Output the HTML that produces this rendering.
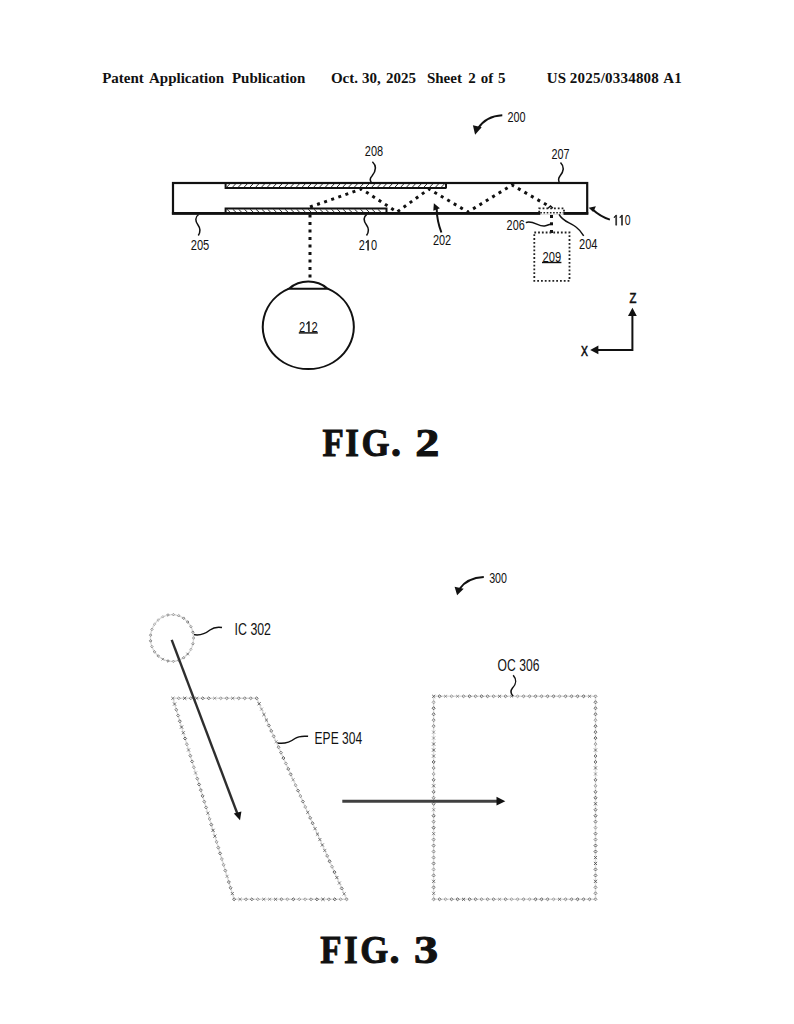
<!DOCTYPE html>
<html><head><meta charset="utf-8">
<style>
html,body{margin:0;padding:0;background:#fff;width:794px;height:1024px;overflow:hidden}
svg{display:block}
.hd{font-family:"Liberation Serif",serif;font-weight:bold;font-size:15px;fill:#111}
.lb{font-family:"Liberation Sans",sans-serif;font-size:14.3px;fill:#111}
.fg{font-family:"Liberation Serif",serif;font-weight:bold;font-size:40px;fill:#111;stroke:#111;stroke-width:1}
.ln{fill:none;stroke:#111;stroke-width:2}
.th{fill:none;stroke:#111;stroke-width:1.5}
.ht{fill:none;stroke:#222;stroke-width:0.95}
.dt{fill:none;stroke:#111;stroke-width:3;stroke-dasharray:3 4.5}
.fd{fill:none;stroke:#222;stroke-width:1.8;stroke-dasharray:1.8 2}
.gd{fill:none;stroke:#9a9a9a;stroke-width:2;stroke-dasharray:2 1.6}
</style></head>
<body>
<svg width="794" height="1024" viewBox="0 0 794 1024">
<!-- header -->
<text class="hd" x="102.2" y="83.2">Patent</text><text class="hd" x="149.0" y="83.2">Application</text><text class="hd" x="231.9" y="83.2">Publication</text><text class="hd" x="330.9" y="83.2">Oct.</text><text class="hd" x="361.9" y="83.2">30,</text><text class="hd" x="386.1" y="83.2">2025</text><text class="hd" x="426.9" y="83.2">Sheet</text><text class="hd" x="468.3" y="83.2">2</text><text class="hd" x="480.8" y="83.2">of</text><text class="hd" x="497.9" y="83.2">5</text><text class="hd" x="546.8" y="83.2">US</text><text class="hd" x="569.8" y="83.2" textLength="89" lengthAdjust="spacing">2025/0334808</text><text class="hd" x="663.3" y="83.2">A1</text>

<!-- ===== FIG 2 ===== -->
<!-- 200 arrow -->
<text class="lb" x="507.4" y="121.7" textLength="18.1" lengthAdjust="spacingAndGlyphs">200</text>
<path class="ln" d="M502.3,115.3 Q486,116 477.5,129"/>
<path d="M472.9,125.2 L481.7,127.2 L475.1,134.8 Z" fill="#111"/>

<!-- waveguide rect -->
<rect x="173" y="183" width="414.2" height="30.4" fill="none" stroke="#111" stroke-width="2.2"/>
<path d="M171.9,213.35 H588.3" stroke="#111" stroke-width="2.7"/>
<!-- top strip 208 -->
<path class="ln" d="M225.6,183 V188 H446" stroke-width="1.6"/>
<path class="ln" d="M446,183 V188.5" stroke-width="1.6"/>
<g class="ht"><path d="M226.5,187.4 L229.7,184"/><path d="M232.3,187.4 L235.5,184"/><path d="M238.1,187.4 L241.3,184"/><path d="M243.9,187.4 L247.1,184"/><path d="M249.7,187.4 L252.9,184"/><path d="M255.5,187.4 L258.7,184"/><path d="M261.3,187.4 L264.5,184"/><path d="M267.1,187.4 L270.3,184"/><path d="M272.9,187.4 L276.1,184"/><path d="M278.7,187.4 L281.9,184"/><path d="M284.5,187.4 L287.7,184"/><path d="M290.3,187.4 L293.5,184"/><path d="M296.1,187.4 L299.3,184"/><path d="M301.9,187.4 L305.1,184"/><path d="M307.7,187.4 L310.9,184"/><path d="M313.5,187.4 L316.7,184"/><path d="M319.3,187.4 L322.5,184"/><path d="M325.1,187.4 L328.3,184"/><path d="M330.9,187.4 L334.1,184"/><path d="M336.7,187.4 L339.9,184"/><path d="M342.5,187.4 L345.7,184"/><path d="M348.3,187.4 L351.5,184"/><path d="M354.1,187.4 L357.3,184"/><path d="M359.9,187.4 L363.1,184"/><path d="M365.7,187.4 L368.9,184"/><path d="M371.5,187.4 L374.7,184"/><path d="M377.3,187.4 L380.5,184"/><path d="M383.1,187.4 L386.3,184"/><path d="M388.9,187.4 L392.1,184"/><path d="M394.7,187.4 L397.9,184"/><path d="M400.5,187.4 L403.7,184"/><path d="M406.3,187.4 L409.5,184"/><path d="M412.1,187.4 L415.3,184"/><path d="M417.9,187.4 L421.1,184"/><path d="M423.7,187.4 L426.9,184"/><path d="M429.5,187.4 L432.7,184"/><path d="M435.3,187.4 L438.5,184"/><path d="M441.1,187.4 L444.3,184"/></g>
<!-- bottom strip 210 -->
<path class="ln" d="M225.6,213 V208.4 H386.5 V213" stroke-width="1.6"/>
<g class="ht"><path d="M227.0,209.3 L230.2,212.3"/><path d="M232.8,209.3 L236.0,212.3"/><path d="M238.6,209.3 L241.8,212.3"/><path d="M244.4,209.3 L247.6,212.3"/><path d="M250.2,209.3 L253.4,212.3"/><path d="M256.0,209.3 L259.2,212.3"/><path d="M261.8,209.3 L265.0,212.3"/><path d="M267.6,209.3 L270.8,212.3"/><path d="M273.4,209.3 L276.6,212.3"/><path d="M279.2,209.3 L282.4,212.3"/><path d="M285.0,209.3 L288.2,212.3"/><path d="M290.8,209.3 L294.0,212.3"/><path d="M296.6,209.3 L299.8,212.3"/><path d="M302.4,209.3 L305.6,212.3"/><path d="M308.2,209.3 L311.4,212.3"/><path d="M314.0,209.3 L317.2,212.3"/><path d="M319.8,209.3 L323.0,212.3"/><path d="M325.6,209.3 L328.8,212.3"/><path d="M331.4,209.3 L334.6,212.3"/><path d="M337.2,209.3 L340.4,212.3"/><path d="M343.0,209.3 L346.2,212.3"/><path d="M348.8,209.3 L352.0,212.3"/><path d="M354.6,209.3 L357.8,212.3"/><path d="M360.4,209.3 L363.6,212.3"/><path d="M366.2,209.3 L369.4,212.3"/><path d="M372.0,209.3 L375.2,212.3"/><path d="M377.8,209.3 L381.0,212.3"/></g>

<!-- zigzag -->
<path class="dt" d="M310,207 L361.5,189 L397,212 L429,189 L468,212 L512,185 L550.4,207"/>
<path d="M548,208.3 L550.5,206 L553,208.3" fill="none" stroke="#111" stroke-width="1.3"/>
<!-- vertical dotted to eye -->
<path class="dt" d="M310,214.5 V278" stroke-dasharray="2.6 4.95"/>
<!-- small dotted rect 204 -->
<path d="M540.3,213.35 H563.5" stroke="#fff" stroke-width="3"/><path d="M540.3,212.8 H563.5" stroke="#222" stroke-width="1.6" stroke-dasharray="1.6 1.6"/>
<path class="fd" d="M539.2,212.5 V208.3 H564 V212.5" stroke-width="1.3" stroke-dasharray="1.4 2.4"/>
<!-- dots from 204 to 209 -->
<rect x="550" y="215" width="3" height="3" fill="#111"/>
<rect x="550" y="222.3" width="3" height="3" fill="#111"/>
<rect x="550" y="230" width="3" height="3" fill="#111"/>
<!-- box 209 -->
<rect x="534.3" y="232.5" width="35.2" height="48.3" class="fd" stroke-width="1.5" stroke-dasharray="1.6 2.2"/>
<text class="lb" x="542.5" y="261.8" textLength="18.6" lengthAdjust="spacingAndGlyphs">209</text>
<path d="M542,262.5 H561.4" stroke="#111" stroke-width="1.4"/>

<!-- eye -->
<path class="ln" d="M288.9,288.7 A45.55 42.2 0 1 0 327.7,288.7"/>
<path class="ln" d="M288.9,288.7 A30 30 0 0 1 327.7,288.7 Z"/>
<text class="lb" transform="translate(299.00,331.7) scale(0.780,1)">2</text><path d="M0.262,-0.705 L0.335,-0.705 L0.335,0 L0.25,0 L0.25,-0.625 L0.095,-0.505 L0.095,-0.578 Z" fill="#111" stroke="#111" stroke-width="0.55" vector-effect="non-scaling-stroke" transform="translate(305.60,331.7) scale(11.151,14.3)"/><text class="lb" transform="translate(311.40,331.7) scale(0.780,1)">2</text>
<path d="M298.8,332.9 H317.8" stroke="#111" stroke-width="1.5"/>

<!-- labels and leaders -->
<text class="lb" x="364.8" y="155.7" textLength="18.3" lengthAdjust="spacingAndGlyphs">208</text>
<path class="th" d="M372.4,161.7 C377,166 376,171 372,176 C369,179 370,181 371.7,183"/>
<text class="lb" x="551.6" y="159.2" textLength="18" lengthAdjust="spacingAndGlyphs">207</text>
<path class="th" d="M560.5,162.4 C564,166 564,171 560,176 C557.5,179 558.5,181 559.5,183"/>
<text class="lb" x="190.7" y="250" textLength="18.6" lengthAdjust="spacingAndGlyphs">205</text>
<path class="th" d="M198.6,214.5 C195,217 195,221 198,225 C201,229 200.5,232 198.3,235.5"/>
<text class="lb" transform="translate(358.80,250.3) scale(0.767,1)">2</text><path d="M0.262,-0.705 L0.335,-0.705 L0.335,0 L0.25,0 L0.25,-0.625 L0.095,-0.505 L0.095,-0.578 Z" fill="#111" stroke="#111" stroke-width="0.55" vector-effect="non-scaling-stroke" transform="translate(364.90,250.3) scale(10.971,14.3)"/><text class="lb" transform="translate(371.00,250.3) scale(0.767,1)">0</text>
<path class="th" d="M366.7,214.4 C363.5,217 363.5,221 366.5,225 C369.5,229 369,232 366.5,235.5"/>
<text class="lb" x="432.9" y="244.7" textLength="18.3" lengthAdjust="spacingAndGlyphs">202</text>
<path class="ln" d="M441.4,232.5 Q436.9,220.7 436.7,209" stroke-width="1.7"/>
<path d="M433.9,203.2 L433.3,210.7 L439.9,208.2 Z" fill="#111"/>
<text class="lb" x="506.6" y="230.4" style="font-size:14.8px" textLength="18.1" lengthAdjust="spacingAndGlyphs">206</text>
<path class="th" d="M525.8,222.6 C533,220 538.5,226.8 544.5,226 C548,225.5 549.5,224 551.8,223.9"/>
<text class="lb" x="579" y="248.7" textLength="18.5" lengthAdjust="spacingAndGlyphs">204</text>
<path class="th" d="M559.1,214.3 C563,222 570,222 576,227 C580,230 582,233 583.7,235.8"/>
<path d="M0.262,-0.705 L0.335,-0.705 L0.335,0 L0.25,0 L0.25,-0.625 L0.095,-0.505 L0.095,-0.578 Z" fill="#111" stroke="#111" stroke-width="0.55" vector-effect="non-scaling-stroke" transform="translate(613.10,225.2) scale(10.492,14.3)"/><path d="M0.262,-0.705 L0.335,-0.705 L0.335,0 L0.25,0 L0.25,-0.625 L0.095,-0.505 L0.095,-0.578 Z" fill="#111" stroke="#111" stroke-width="0.55" vector-effect="non-scaling-stroke" transform="translate(618.93,225.2) scale(10.492,14.3)"/><text class="lb" transform="translate(624.77,225.2) scale(0.734,1)">0</text>
<path class="ln" d="M609.9,219.6 Q600,216.5 592.1,209" stroke-width="1.7"/>
<path d="M588.7,207.8 L595.9,206.3 L593.2,212 Z" fill="#111"/>

<!-- axes -->
<text class="lb" x="629.4" y="302.6" textLength="6.9" lengthAdjust="spacingAndGlyphs" stroke="#111" stroke-width="0.6">Z</text>
<text class="lb" x="580.9" y="355.5" textLength="6.9" lengthAdjust="spacingAndGlyphs" stroke="#111" stroke-width="0.6">X</text>
<path class="ln" d="M632.4,314 V349.9 H597"/>
<path d="M632.4,307.7 L628,315.9 L636.8,315.9 Z" fill="#111"/>
<path d="M590.2,349.9 L598.4,345.5 L598.4,354.3 Z" fill="#111"/>

<text class="fg" transform="translate(322.50,455.5) scale(0.870,1)">F</text><text class="fg" transform="translate(345.22,455.5) scale(0.879,1)">I</text><text class="fg" transform="translate(361.60,455.5) scale(0.900,1)">G</text><text class="fg" transform="translate(391.00,455.5) scale(1.000,1)">.</text><text class="fg" transform="translate(415.29,455.5) scale(1.206,1)">2</text>

<!-- ===== FIG 3 ===== -->
<text class="lb" x="489.2" y="582.6" textLength="17.8" lengthAdjust="spacingAndGlyphs">300</text>
<path class="ln" d="M483.8,577.1 Q467,578 459.5,589"/>
<path d="M454.6,586.7 L463.7,588.7 L457.1,595.2 Z" fill="#111"/>


<text class="lb" x="234.6" y="635.35" style="font-size:16.5px" textLength="36.4" lengthAdjust="spacingAndGlyphs">IC 302</text>
<path class="th" d="M193,634.5 C200,636 205,634 210,630 C214,627 218,627 222,627.6"/>


<text class="lb" x="314.6" y="743.5" style="font-size:16.15px" textLength="47.5" lengthAdjust="spacingAndGlyphs">EPE 304</text>
<path class="th" d="M277,742.9 C283,744 289,743 295,738.5 C299,735.5 304,736 308.1,736.3"/>

<g fill="none" stroke="#dcdcdc" stroke-width="1.4">
<path d="M433.6,696.3 H595.5 V899.3 H433.6 Z"/>
<path d="M172.8,698.3 H256.7 L346.6,899.3 H234.1 Z"/>
<ellipse cx="172" cy="638" rx="21.6" ry="23.4"/>
</g>
<g id="marks" fill="none" stroke="#4a4a4a" stroke-width="0.95"><path d="M432.1,694.8L435.2,697.8M435.2,694.8L432.1,697.8" stroke-opacity="0.8"/><path d="M438.0,696.3L439.6,694.8L441.1,696.3L439.6,697.8Z" stroke-opacity="0.9"/><path d="M444.0,694.8L447.1,697.8M447.1,694.8L444.0,697.8" stroke-opacity="0.5"/><path d="M450.0,696.3L451.6,694.8L453.1,696.3L451.6,697.8Z" stroke-opacity="0.5"/><path d="M456.0,694.8L459.1,697.8M459.1,694.8L456.0,697.8" stroke-opacity="0.5"/><path d="M462.0,696.3L463.6,694.8L465.1,696.3L463.6,697.8Z" stroke-opacity="0.65"/><path d="M468.0,696.3L469.6,694.8L471.1,696.3L469.6,697.8Z" stroke-opacity="0.9"/><path d="M474.0,696.3L475.6,694.8L477.1,696.3L475.6,697.8Z" stroke-opacity="0.65"/><path d="M480.0,696.3L481.6,694.8L483.1,696.3L481.6,697.8Z" stroke-opacity="0.9"/><path d="M486.0,696.3L487.6,694.8L489.1,696.3L487.6,697.8Z" stroke-opacity="0.75"/><path d="M492.0,696.3L493.6,694.8L495.1,696.3L493.6,697.8Z" stroke-opacity="0.65"/><path d="M498.0,694.8L501.1,697.8M501.1,694.8L498.0,697.8" stroke-opacity="0.75"/><path d="M504.0,696.3L505.6,694.8L507.1,696.3L505.6,697.8Z" stroke-opacity="0.75"/><path d="M510.0,694.8L513.1,697.8M513.1,694.8L510.0,697.8" stroke-opacity="0.5"/><path d="M516.0,696.3L517.5,694.8L519.1,696.3L517.5,697.8Z" stroke-opacity="0.5"/><path d="M522.0,696.3L523.5,694.8L525.1,696.3L523.5,697.8Z" stroke-opacity="0.65"/><path d="M528.0,696.3L529.5,694.8L531.1,696.3L529.5,697.8Z" stroke-opacity="0.65"/><path d="M534.0,696.3L535.5,694.8L537.1,696.3L535.5,697.8Z" stroke-opacity="0.75"/><path d="M540.0,696.3L541.5,694.8L543.1,696.3L541.5,697.8Z" stroke-opacity="0.65"/><path d="M546.0,696.3L547.5,694.8L549.1,696.3L547.5,697.8Z" stroke-opacity="0.75"/><path d="M552.0,696.3L553.5,694.8L555.1,696.3L553.5,697.8Z" stroke-opacity="0.8"/><path d="M558.0,696.3L559.5,694.8L561.1,696.3L559.5,697.8Z" stroke-opacity="0.5"/><path d="M564.0,696.3L565.5,694.8L567.1,696.3L565.5,697.8Z" stroke-opacity="0.75"/><path d="M570.0,696.3L571.5,694.8L573.1,696.3L571.5,697.8Z" stroke-opacity="0.75"/><path d="M576.0,696.3L577.5,694.8L579.1,696.3L577.5,697.8Z" stroke-opacity="0.8"/><path d="M582.0,696.3L583.5,694.8L585.1,696.3L583.5,697.8Z" stroke-opacity="0.9"/><path d="M588.0,694.8L591.1,697.8M591.1,694.8L588.0,697.8" stroke-opacity="0.65"/><path d="M594.0,696.3L595.5,694.8L597.0,696.3L595.5,697.8Z" stroke-opacity="0.65"/><path d="M594.0,702.3L595.5,700.7L597.0,702.3L595.5,703.8Z" stroke-opacity="0.8"/><path d="M594.0,708.2L595.5,706.7L597.0,708.2L595.5,709.8Z" stroke-opacity="0.8"/><path d="M594.0,714.2L595.5,712.7L597.0,714.2L595.5,715.8Z" stroke-opacity="0.8"/><path d="M594.0,720.2L595.5,718.6L597.0,720.2L595.5,721.7Z" stroke-opacity="0.5"/><path d="M594.0,726.2L595.5,724.6L597.0,726.2L595.5,727.7Z" stroke-opacity="0.9"/><path d="M594.0,732.1L595.5,730.6L597.0,732.1L595.5,733.7Z" stroke-opacity="0.8"/><path d="M594.0,738.1L595.5,736.5L597.0,738.1L595.5,739.6Z" stroke-opacity="0.9"/><path d="M594.0,744.1L595.5,742.5L597.0,744.1L595.5,745.6Z" stroke-opacity="0.5"/><path d="M594.0,748.5L597.0,751.6M597.0,748.5L594.0,751.6" stroke-opacity="0.75"/><path d="M594.0,756.0L595.5,754.5L597.0,756.0L595.5,757.6Z" stroke-opacity="0.8"/><path d="M594.0,762.0L595.5,760.4L597.0,762.0L595.5,763.5Z" stroke-opacity="0.8"/><path d="M594.0,766.4L597.0,769.5M597.0,766.4L594.0,769.5" stroke-opacity="0.75"/><path d="M594.0,772.4L597.0,775.5M597.0,772.4L594.0,775.5" stroke-opacity="0.5"/><path d="M594.0,779.9L595.5,778.3L597.0,779.9L595.5,781.4Z" stroke-opacity="0.8"/><path d="M594.0,785.9L595.5,784.3L597.0,785.9L595.5,787.4Z" stroke-opacity="0.5"/><path d="M594.0,791.8L595.5,790.3L597.0,791.8L595.5,793.4Z" stroke-opacity="0.8"/><path d="M594.0,797.8L595.5,796.2L597.0,797.8L595.5,799.3Z" stroke-opacity="0.9"/><path d="M594.0,802.2L597.0,805.3M597.0,802.2L594.0,805.3" stroke-opacity="0.9"/><path d="M594.0,809.7L595.5,808.2L597.0,809.7L595.5,811.3Z" stroke-opacity="0.8"/><path d="M594.0,815.7L595.5,814.2L597.0,815.7L595.5,817.3Z" stroke-opacity="0.9"/><path d="M594.0,821.7L595.5,820.1L597.0,821.7L595.5,823.2Z" stroke-opacity="0.75"/><path d="M594.0,827.7L595.5,826.1L597.0,827.7L595.5,829.2Z" stroke-opacity="0.5"/><path d="M594.0,833.6L595.5,832.1L597.0,833.6L595.5,835.2Z" stroke-opacity="0.8"/><path d="M594.0,839.6L595.5,838.0L597.0,839.6L595.5,841.1Z" stroke-opacity="0.65"/><path d="M594.0,845.6L595.5,844.0L597.0,845.6L595.5,847.1Z" stroke-opacity="0.9"/><path d="M594.0,851.5L595.5,850.0L597.0,851.5L595.5,853.1Z" stroke-opacity="0.9"/><path d="M594.0,856.0L597.0,859.1M597.0,856.0L594.0,859.1" stroke-opacity="0.8"/><path d="M594.0,861.9L597.0,865.0M597.0,861.9L594.0,865.0" stroke-opacity="0.9"/><path d="M594.0,869.4L595.5,867.9L597.0,869.4L595.5,871.0Z" stroke-opacity="0.8"/><path d="M594.0,875.4L595.5,873.9L597.0,875.4L595.5,877.0Z" stroke-opacity="0.8"/><path d="M594.0,879.8L597.0,882.9M597.0,879.8L594.0,882.9" stroke-opacity="0.9"/><path d="M594.0,887.4L595.5,885.8L597.0,887.4L595.5,888.9Z" stroke-opacity="0.65"/><path d="M594.0,893.3L595.5,891.8L597.0,893.3L595.5,894.9Z" stroke-opacity="0.65"/><path d="M594.0,899.3L595.5,897.8L597.0,899.3L595.5,900.8Z" stroke-opacity="0.65"/><path d="M588.0,899.3L589.5,897.8L591.1,899.3L589.5,900.8Z" stroke-opacity="0.75"/><path d="M582.0,899.3L583.5,897.8L585.1,899.3L583.5,900.8Z" stroke-opacity="0.8"/><path d="M576.0,899.3L577.5,897.8L579.1,899.3L577.5,900.8Z" stroke-opacity="0.9"/><path d="M570.0,899.3L571.5,897.8L573.1,899.3L571.5,900.8Z" stroke-opacity="0.75"/><path d="M564.0,899.3L565.5,897.8L567.1,899.3L565.5,900.8Z" stroke-opacity="0.65"/><path d="M558.0,897.8L561.1,900.8M561.1,897.8L558.0,900.8" stroke-opacity="0.75"/><path d="M552.0,899.3L553.5,897.8L555.1,899.3L553.5,900.8Z" stroke-opacity="0.5"/><path d="M546.0,899.3L547.5,897.8L549.1,899.3L547.5,900.8Z" stroke-opacity="0.75"/><path d="M540.0,899.3L541.5,897.8L543.1,899.3L541.5,900.8Z" stroke-opacity="0.9"/><path d="M534.0,899.3L535.5,897.8L537.1,899.3L535.5,900.8Z" stroke-opacity="0.9"/><path d="M528.0,899.3L529.5,897.8L531.1,899.3L529.5,900.8Z" stroke-opacity="0.5"/><path d="M522.0,899.3L523.5,897.8L525.1,899.3L523.5,900.8Z" stroke-opacity="0.65"/><path d="M516.0,899.3L517.5,897.8L519.1,899.3L517.5,900.8Z" stroke-opacity="0.5"/><path d="M510.0,899.3L511.6,897.8L513.1,899.3L511.6,900.8Z" stroke-opacity="0.5"/><path d="M504.0,899.3L505.6,897.8L507.1,899.3L505.6,900.8Z" stroke-opacity="0.75"/><path d="M498.0,897.8L501.1,900.8M501.1,897.8L498.0,900.8" stroke-opacity="0.5"/><path d="M492.0,899.3L493.6,897.8L495.1,899.3L493.6,900.8Z" stroke-opacity="0.75"/><path d="M486.0,899.3L487.6,897.8L489.1,899.3L487.6,900.8Z" stroke-opacity="0.65"/><path d="M480.0,899.3L481.6,897.8L483.1,899.3L481.6,900.8Z" stroke-opacity="0.65"/><path d="M474.0,899.3L475.6,897.8L477.1,899.3L475.6,900.8Z" stroke-opacity="0.8"/><path d="M468.0,899.3L469.6,897.8L471.1,899.3L469.6,900.8Z" stroke-opacity="0.9"/><path d="M462.0,897.8L465.1,900.8M465.1,897.8L462.0,900.8" stroke-opacity="0.9"/><path d="M456.0,899.3L457.6,897.8L459.1,899.3L457.6,900.8Z" stroke-opacity="0.9"/><path d="M450.0,899.3L451.6,897.8L453.1,899.3L451.6,900.8Z" stroke-opacity="0.8"/><path d="M444.0,899.3L445.6,897.8L447.1,899.3L445.6,900.8Z" stroke-opacity="0.5"/><path d="M438.0,899.3L439.6,897.8L441.1,899.3L439.6,900.8Z" stroke-opacity="0.8"/><path d="M432.1,899.3L433.6,897.8L435.2,899.3L433.6,900.8Z" stroke-opacity="0.65"/><path d="M432.1,891.8L435.2,894.9M435.2,891.8L432.1,894.9" stroke-opacity="0.65"/><path d="M432.1,887.4L433.6,885.8L435.2,887.4L433.6,888.9Z" stroke-opacity="0.75"/><path d="M432.1,879.8L435.2,882.9M435.2,879.8L432.1,882.9" stroke-opacity="0.75"/><path d="M432.1,875.4L433.6,873.9L435.2,875.4L433.6,877.0Z" stroke-opacity="0.75"/><path d="M432.1,869.4L433.6,867.9L435.2,869.4L433.6,871.0Z" stroke-opacity="0.5"/><path d="M432.1,863.5L433.6,861.9L435.2,863.5L433.6,865.0Z" stroke-opacity="0.8"/><path d="M432.1,857.5L433.6,856.0L435.2,857.5L433.6,859.1Z" stroke-opacity="0.65"/><path d="M432.1,851.5L433.6,850.0L435.2,851.5L433.6,853.1Z" stroke-opacity="0.65"/><path d="M432.1,845.6L433.6,844.0L435.2,845.6L433.6,847.1Z" stroke-opacity="0.75"/><path d="M432.1,839.6L433.6,838.0L435.2,839.6L433.6,841.1Z" stroke-opacity="0.65"/><path d="M432.1,832.1L435.2,835.2M435.2,832.1L432.1,835.2" stroke-opacity="0.65"/><path d="M432.1,827.7L433.6,826.1L435.2,827.7L433.6,829.2Z" stroke-opacity="0.9"/><path d="M432.1,821.7L433.6,820.1L435.2,821.7L433.6,823.2Z" stroke-opacity="0.65"/><path d="M432.1,815.7L433.6,814.2L435.2,815.7L433.6,817.3Z" stroke-opacity="0.9"/><path d="M432.1,808.2L435.2,811.3M435.2,808.2L432.1,811.3" stroke-opacity="0.5"/><path d="M432.1,803.8L433.6,802.2L435.2,803.8L433.6,805.3Z" stroke-opacity="0.8"/><path d="M432.1,797.8L433.6,796.2L435.2,797.8L433.6,799.3Z" stroke-opacity="0.65"/><path d="M432.1,791.8L433.6,790.3L435.2,791.8L433.6,793.4Z" stroke-opacity="0.8"/><path d="M432.1,784.3L435.2,787.4M435.2,784.3L432.1,787.4" stroke-opacity="0.8"/><path d="M432.1,779.9L433.6,778.3L435.2,779.9L433.6,781.4Z" stroke-opacity="0.8"/><path d="M432.1,773.9L433.6,772.4L435.2,773.9L433.6,775.5Z" stroke-opacity="0.5"/><path d="M432.1,767.9L433.6,766.4L435.2,767.9L433.6,769.5Z" stroke-opacity="0.65"/><path d="M432.1,762.0L433.6,760.4L435.2,762.0L433.6,763.5Z" stroke-opacity="0.9"/><path d="M432.1,754.5L435.2,757.6M435.2,754.5L432.1,757.6" stroke-opacity="0.75"/><path d="M432.1,748.5L435.2,751.6M435.2,748.5L432.1,751.6" stroke-opacity="0.9"/><path d="M432.1,742.5L435.2,745.6M435.2,742.5L432.1,745.6" stroke-opacity="0.8"/><path d="M432.1,736.5L435.2,739.6M435.2,736.5L432.1,739.6" stroke-opacity="0.5"/><path d="M432.1,730.6L435.2,733.7M435.2,730.6L432.1,733.7" stroke-opacity="0.5"/><path d="M432.1,726.2L433.6,724.6L435.2,726.2L433.6,727.7Z" stroke-opacity="0.65"/><path d="M432.1,720.2L433.6,718.6L435.2,720.2L433.6,721.7Z" stroke-opacity="0.65"/><path d="M432.1,714.2L433.6,712.7L435.2,714.2L433.6,715.8Z" stroke-opacity="0.8"/><path d="M432.1,708.2L433.6,706.7L435.2,708.2L433.6,709.8Z" stroke-opacity="0.9"/><path d="M432.1,702.3L433.6,700.7L435.2,702.3L433.6,703.8Z" stroke-opacity="0.5"/><path d="M171.2,696.8L174.4,699.8M174.4,696.8L171.2,699.8" stroke-opacity="0.65"/><path d="M177.2,698.3L178.8,696.8L180.3,698.3L178.8,699.8Z" stroke-opacity="0.5"/><path d="M183.2,696.8L186.3,699.8M186.3,696.8L183.2,699.8" stroke-opacity="0.9"/><path d="M189.2,698.3L190.8,696.8L192.3,698.3L190.8,699.8Z" stroke-opacity="0.65"/><path d="M195.2,696.8L198.3,699.8M198.3,696.8L195.2,699.8" stroke-opacity="0.75"/><path d="M201.2,698.3L202.8,696.8L204.3,698.3L202.8,699.8Z" stroke-opacity="0.8"/><path d="M207.2,698.3L208.8,696.8L210.3,698.3L208.8,699.8Z" stroke-opacity="0.75"/><path d="M213.2,696.8L216.3,699.8M216.3,696.8L213.2,699.8" stroke-opacity="0.5"/><path d="M219.2,698.3L220.7,696.8L222.3,698.3L220.7,699.8Z" stroke-opacity="0.5"/><path d="M225.2,698.3L226.7,696.8L228.3,698.3L226.7,699.8Z" stroke-opacity="0.65"/><path d="M231.2,696.8L234.3,699.8M234.3,696.8L231.2,699.8" stroke-opacity="0.65"/><path d="M237.2,698.3L238.7,696.8L240.3,698.3L238.7,699.8Z" stroke-opacity="0.65"/><path d="M243.2,698.3L244.7,696.8L246.3,698.3L244.7,699.8Z" stroke-opacity="0.65"/><path d="M249.2,698.3L250.7,696.8L252.3,698.3L250.7,699.8Z" stroke-opacity="0.65"/><path d="M255.1,698.3L256.7,696.8L258.2,698.3L256.7,699.8Z" stroke-opacity="0.8"/><path d="M257.6,702.2L260.7,705.3M260.7,702.2L257.6,705.3" stroke-opacity="0.9"/><path d="M260.0,707.6L263.1,710.7M263.1,707.6L260.0,710.7" stroke-opacity="0.5"/><path d="M262.4,713.0L265.5,716.1M265.5,713.0L262.4,716.1" stroke-opacity="0.8"/><path d="M264.9,718.5L268.0,721.6M268.0,718.5L264.9,721.6" stroke-opacity="0.75"/><path d="M267.3,725.5L268.8,723.9L270.4,725.5L268.8,727.0Z" stroke-opacity="0.75"/><path d="M269.7,730.9L271.3,729.3L272.8,730.9L271.3,732.4Z" stroke-opacity="0.75"/><path d="M272.2,736.3L273.7,734.8L275.3,736.3L273.7,737.9Z" stroke-opacity="0.65"/><path d="M274.6,740.2L277.7,743.3M277.7,740.2L274.6,743.3" stroke-opacity="0.5"/><path d="M277.0,747.2L278.6,745.6L280.1,747.2L278.6,748.7Z" stroke-opacity="0.65"/><path d="M279.4,752.6L281.0,751.1L282.5,752.6L281.0,754.2Z" stroke-opacity="0.65"/><path d="M281.9,758.1L283.4,756.5L285.0,758.1L283.4,759.6Z" stroke-opacity="0.9"/><path d="M284.3,763.5L285.9,761.9L287.4,763.5L285.9,765.0Z" stroke-opacity="0.5"/><path d="M286.7,768.9L288.3,767.4L289.8,768.9L288.3,770.5Z" stroke-opacity="0.8"/><path d="M289.2,774.4L290.7,772.8L292.3,774.4L290.7,775.9Z" stroke-opacity="0.75"/><path d="M291.6,778.2L294.7,781.3M294.7,778.2L291.6,781.3" stroke-opacity="0.5"/><path d="M294.0,785.2L295.6,783.7L297.1,785.2L295.6,786.8Z" stroke-opacity="0.5"/><path d="M296.5,790.7L298.0,789.1L299.6,790.7L298.0,792.2Z" stroke-opacity="0.8"/><path d="M298.9,796.1L300.4,794.5L302.0,796.1L300.4,797.6Z" stroke-opacity="0.5"/><path d="M301.3,801.5L302.9,800.0L304.4,801.5L302.9,803.1Z" stroke-opacity="0.75"/><path d="M303.7,806.9L305.3,805.4L306.8,806.9L305.3,808.5Z" stroke-opacity="0.5"/><path d="M306.2,810.8L309.3,813.9M309.3,810.8L306.2,813.9" stroke-opacity="0.75"/><path d="M308.6,817.8L310.2,816.3L311.7,817.8L310.2,819.4Z" stroke-opacity="0.75"/><path d="M311.0,823.2L312.6,821.7L314.1,823.2L312.6,824.8Z" stroke-opacity="0.8"/><path d="M313.5,827.1L316.6,830.2M316.6,827.1L313.5,830.2" stroke-opacity="0.75"/><path d="M315.9,832.6L319.0,835.7M319.0,832.6L315.9,835.7" stroke-opacity="0.75"/><path d="M318.3,838.0L321.4,841.1M321.4,838.0L318.3,841.1" stroke-opacity="0.75"/><path d="M320.8,843.4L323.9,846.5M323.9,843.4L320.8,846.5" stroke-opacity="0.8"/><path d="M323.2,848.9L326.3,852.0M326.3,848.9L323.2,852.0" stroke-opacity="0.65"/><path d="M325.6,855.8L327.2,854.3L328.7,855.8L327.2,857.4Z" stroke-opacity="0.65"/><path d="M328.0,861.3L329.6,859.7L331.1,861.3L329.6,862.8Z" stroke-opacity="0.9"/><path d="M330.5,866.7L332.0,865.2L333.6,866.7L332.0,868.3Z" stroke-opacity="0.5"/><path d="M332.9,872.1L334.5,870.6L336.0,872.1L334.5,873.7Z" stroke-opacity="0.9"/><path d="M335.3,876.0L338.4,879.1M338.4,876.0L335.3,879.1" stroke-opacity="0.8"/><path d="M337.8,881.5L340.9,884.6M340.9,881.5L337.8,884.6" stroke-opacity="0.65"/><path d="M340.2,888.4L341.7,886.9L343.3,888.4L341.7,890.0Z" stroke-opacity="0.8"/><path d="M342.6,892.3L345.7,895.4M345.7,892.3L342.6,895.4" stroke-opacity="0.65"/><path d="M345.1,899.3L346.6,897.8L348.2,899.3L346.6,900.8Z" stroke-opacity="0.65"/><path d="M339.1,899.3L340.7,897.8L342.2,899.3L340.7,900.8Z" stroke-opacity="0.5"/><path d="M333.2,899.3L334.8,897.8L336.3,899.3L334.8,900.8Z" stroke-opacity="0.9"/><path d="M327.3,899.3L328.8,897.8L330.4,899.3L328.8,900.8Z" stroke-opacity="0.65"/><path d="M321.4,897.8L324.5,900.8M324.5,897.8L321.4,900.8" stroke-opacity="0.9"/><path d="M315.4,899.3L317.0,897.8L318.5,899.3L317.0,900.8Z" stroke-opacity="0.9"/><path d="M309.5,899.3L311.1,897.8L312.6,899.3L311.1,900.8Z" stroke-opacity="0.65"/><path d="M303.6,899.3L305.2,897.8L306.7,899.3L305.2,900.8Z" stroke-opacity="0.5"/><path d="M297.7,899.3L299.2,897.8L300.8,899.3L299.2,900.8Z" stroke-opacity="0.5"/><path d="M291.8,899.3L293.3,897.8L294.9,899.3L293.3,900.8Z" stroke-opacity="0.9"/><path d="M285.8,899.3L287.4,897.8L288.9,899.3L287.4,900.8Z" stroke-opacity="0.5"/><path d="M279.9,899.3L281.5,897.8L283.0,899.3L281.5,900.8Z" stroke-opacity="0.75"/><path d="M274.0,897.8L277.1,900.8M277.1,897.8L274.0,900.8" stroke-opacity="0.75"/><path d="M268.1,897.8L271.2,900.8M271.2,897.8L268.1,900.8" stroke-opacity="0.5"/><path d="M262.2,897.8L265.3,900.8M265.3,897.8L262.2,900.8" stroke-opacity="0.65"/><path d="M256.2,899.3L257.8,897.8L259.3,899.3L257.8,900.8Z" stroke-opacity="0.5"/><path d="M250.3,899.3L251.9,897.8L253.4,899.3L251.9,900.8Z" stroke-opacity="0.8"/><path d="M244.4,899.3L245.9,897.8L247.5,899.3L245.9,900.8Z" stroke-opacity="0.65"/><path d="M238.5,897.8L241.6,900.8M241.6,897.8L238.5,900.8" stroke-opacity="0.65"/><path d="M232.5,899.3L234.1,897.8L235.7,899.3L234.1,900.8Z" stroke-opacity="0.8"/><path d="M230.8,892.0L233.9,895.1M233.9,892.0L230.8,895.1" stroke-opacity="0.75"/><path d="M229.0,887.8L230.6,886.3L232.1,887.8L230.6,889.4Z" stroke-opacity="0.75"/><path d="M227.3,882.1L228.8,880.5L230.4,882.1L228.8,883.6Z" stroke-opacity="0.8"/><path d="M225.5,874.8L228.6,877.9M228.6,874.8L225.5,877.9" stroke-opacity="0.5"/><path d="M223.8,870.6L225.3,869.0L226.9,870.6L225.3,872.1Z" stroke-opacity="0.65"/><path d="M222.0,864.8L223.6,863.3L225.1,864.8L223.6,866.4Z" stroke-opacity="0.5"/><path d="M220.3,859.1L221.8,857.5L223.4,859.1L221.8,860.6Z" stroke-opacity="0.5"/><path d="M218.5,853.4L220.1,851.8L221.6,853.4L220.1,854.9Z" stroke-opacity="0.8"/><path d="M216.8,847.6L218.3,846.1L219.9,847.6L218.3,849.2Z" stroke-opacity="0.65"/><path d="M215.0,841.9L216.6,840.3L218.1,841.9L216.6,843.4Z" stroke-opacity="0.5"/><path d="M213.3,834.6L216.4,837.7M216.4,834.6L213.3,837.7" stroke-opacity="0.8"/><path d="M211.5,828.8L214.6,831.9M214.6,828.8L211.5,831.9" stroke-opacity="0.9"/><path d="M209.8,824.6L211.3,823.1L212.9,824.6L211.3,826.2Z" stroke-opacity="0.8"/><path d="M208.0,818.9L209.6,817.4L211.1,818.9L209.6,820.4Z" stroke-opacity="0.5"/><path d="M206.3,811.6L209.4,814.7M209.4,811.6L206.3,814.7" stroke-opacity="0.65"/><path d="M204.5,807.4L206.1,805.9L207.6,807.4L206.1,809.0Z" stroke-opacity="0.65"/><path d="M202.8,801.7L204.3,800.1L205.9,801.7L204.3,803.2Z" stroke-opacity="0.65"/><path d="M201.0,795.9L202.6,794.4L204.1,795.9L202.6,797.5Z" stroke-opacity="0.8"/><path d="M199.3,790.2L200.8,788.6L202.4,790.2L200.8,791.7Z" stroke-opacity="0.75"/><path d="M197.5,784.4L199.1,782.9L200.6,784.4L199.1,786.0Z" stroke-opacity="0.8"/><path d="M195.8,778.7L197.3,777.1L198.9,778.7L197.3,780.2Z" stroke-opacity="0.65"/><path d="M194.0,771.4L197.1,774.5M197.1,771.4L194.0,774.5" stroke-opacity="0.5"/><path d="M192.3,767.2L193.8,765.7L195.4,767.2L193.8,768.8Z" stroke-opacity="0.5"/><path d="M190.5,761.5L192.1,759.9L193.6,761.5L192.1,763.0Z" stroke-opacity="0.75"/><path d="M188.8,755.7L190.3,754.2L191.9,755.7L190.3,757.3Z" stroke-opacity="0.65"/><path d="M187.0,748.4L190.1,751.5M190.1,748.4L187.0,751.5" stroke-opacity="0.65"/><path d="M185.3,744.2L186.8,742.7L188.4,744.2L186.8,745.8Z" stroke-opacity="0.5"/><path d="M183.5,738.5L185.1,737.0L186.6,738.5L185.1,740.0Z" stroke-opacity="0.9"/><path d="M181.8,731.2L184.9,734.3M184.9,731.2L181.8,734.3" stroke-opacity="0.75"/><path d="M180.0,725.5L183.1,728.6M183.1,725.5L180.0,728.6" stroke-opacity="0.9"/><path d="M178.3,721.3L179.8,719.7L181.4,721.3L179.8,722.8Z" stroke-opacity="0.8"/><path d="M176.5,715.5L178.1,714.0L179.6,715.5L178.1,717.1Z" stroke-opacity="0.65"/><path d="M174.8,709.8L176.3,708.2L177.9,709.8L176.3,711.3Z" stroke-opacity="0.65"/><path d="M173.0,702.5L176.1,705.6M176.1,702.5L173.0,705.6" stroke-opacity="0.8"/><path d="M192.3,638.0L193.6,636.7L194.9,638.0L193.6,639.3Z" stroke-opacity="0.5"/><path d="M191.6,643.8L192.9,642.5L194.2,643.8L192.9,645.1Z" stroke-opacity="0.6"/><path d="M189.6,649.3L190.9,648.0L192.2,649.3L190.9,650.6Z" stroke-opacity="0.35"/><path d="M186.4,652.7L189.0,655.3M189.0,652.7L186.4,655.3" stroke-opacity="0.7"/><path d="M182.3,657.8L183.6,656.5L184.9,657.8L183.6,659.1Z" stroke-opacity="0.6"/><path d="M177.4,660.3L178.7,659.0L180.0,660.3L178.7,661.6Z" stroke-opacity="0.6"/><path d="M172.1,661.4L173.4,660.1L174.7,661.4L173.4,662.7Z" stroke-opacity="0.5"/><path d="M166.7,661.0L168.0,659.7L169.3,661.0L168.0,662.3Z" stroke-opacity="0.7"/><path d="M161.5,657.9L164.1,660.5M164.1,657.9L161.5,660.5" stroke-opacity="0.6"/><path d="M156.9,656.0L158.2,654.7L159.5,656.0L158.2,657.3Z" stroke-opacity="0.6"/><path d="M153.2,651.8L154.5,650.5L155.8,651.8L154.5,653.1Z" stroke-opacity="0.6"/><path d="M150.6,646.6L151.9,645.3L153.2,646.6L151.9,647.9Z" stroke-opacity="0.5"/><path d="M149.3,640.9L150.6,639.6L151.9,640.9L150.6,642.2Z" stroke-opacity="0.7"/><path d="M149.3,635.1L150.6,633.8L151.9,635.1L150.6,636.4Z" stroke-opacity="0.6"/><path d="M150.6,629.4L151.9,628.1L153.2,629.4L151.9,630.7Z" stroke-opacity="0.5"/><path d="M153.2,624.2L154.5,622.9L155.8,624.2L154.5,625.5Z" stroke-opacity="0.35"/><path d="M156.9,620.0L158.2,618.7L159.5,620.0L158.2,621.3Z" stroke-opacity="0.35"/><path d="M161.5,616.8L162.8,615.5L164.1,616.8L162.8,618.1Z" stroke-opacity="0.35"/><path d="M166.7,615.0L168.0,613.7L169.3,615.0L168.0,616.3Z" stroke-opacity="0.6"/><path d="M172.1,614.6L173.4,613.3L174.7,614.6L173.4,615.9Z" stroke-opacity="0.5"/><path d="M177.4,615.7L178.7,614.4L180.0,615.7L178.7,617.0Z" stroke-opacity="0.5"/><path d="M182.3,618.2L183.6,616.9L184.9,618.2L183.6,619.5Z" stroke-opacity="0.7"/><path d="M186.4,622.0L187.7,620.7L189.0,622.0L187.7,623.3Z" stroke-opacity="0.7"/><path d="M189.6,626.7L190.9,625.4L192.2,626.7L190.9,628.0Z" stroke-opacity="0.5"/><path d="M191.6,632.2L192.9,630.9L194.2,632.2L192.9,633.5Z" stroke-opacity="0.7"/></g>
<text class="lb" x="497.6" y="671.2" style="font-size:15.6px" textLength="41.8" lengthAdjust="spacingAndGlyphs">OC 306</text>
<path class="th" d="M513.2,675.2 C516.5,679 516.5,684 512.5,688 C510,691 511,694 513.2,696.3"/>

<!-- arrows -->
<path d="M171.7,639.8 L237.5,814" stroke="#2e2e2e" stroke-width="2.4"/>
<path d="M240,820.3 L233.8,813.6 L241.4,811.4 Z" fill="#111"/>
<path d="M342.3,801.2 H498" stroke="#404040" stroke-width="3"/>
<path d="M505.3,801.2 L496.5,796.8 L496.5,805.6 Z" fill="#111"/>

<text class="fg" transform="translate(320.20,962.5) scale(0.870,1)">F</text><text class="fg" transform="translate(343.92,962.5) scale(0.879,1)">I</text><text class="fg" transform="translate(360.30,962.5) scale(0.900,1)">G</text><text class="fg" transform="translate(389.60,962.5) scale(1.000,1)">.</text><text class="fg" transform="translate(413.99,962.5) scale(1.206,1)">3</text>
</svg>
<script>
</script>
</body></html>
